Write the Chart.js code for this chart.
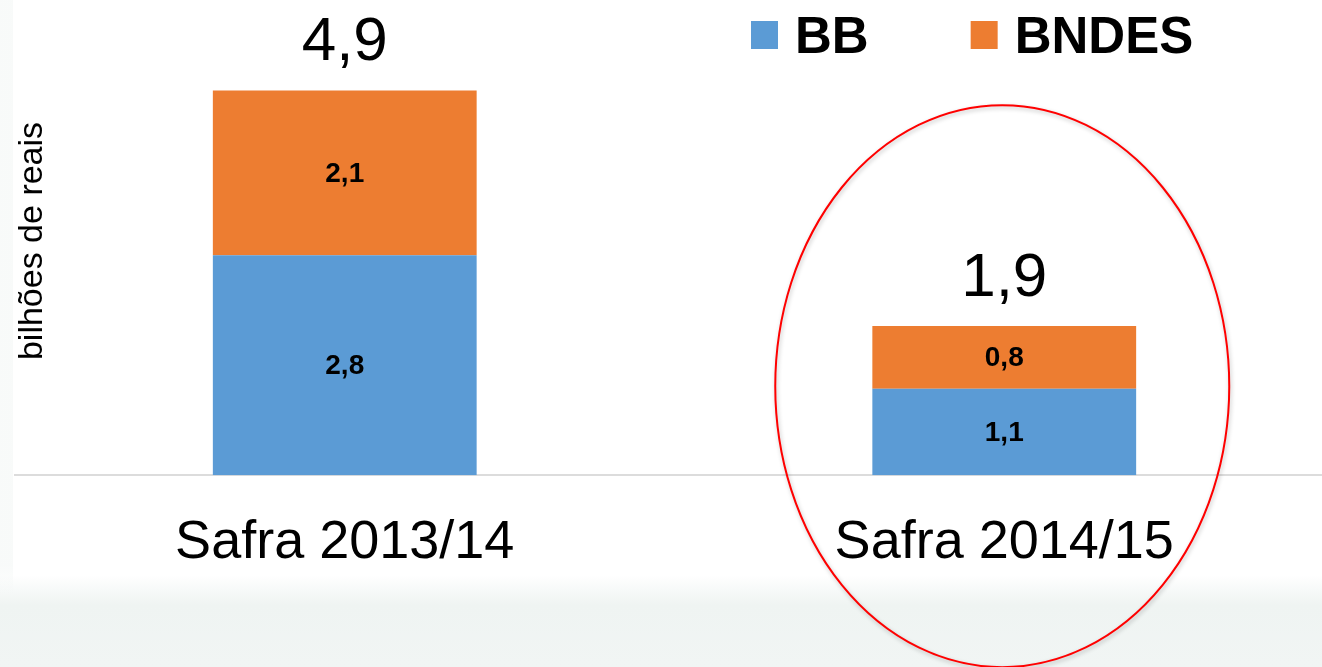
<!DOCTYPE html>
<html><head><meta charset="utf-8">
<script src="https://cdn.jsdelivr.net/npm/chart.js@4.4.1/dist/chart.umd.min.js"></script>
<style>
html,body{margin:0;padding:0;overflow:hidden;background:#fff;}
#wrap{position:relative;width:1336px;height:667px;}
canvas{display:block;}
</style></head><body>
<div id="wrap"><canvas id="c" width="1336" height="667"></canvas></div>
<script>
const categories = ['Safra 2013/14', 'Safra 2014/15'];
const seriesNames = ['BB', 'BNDES'];
const bbValues = [2.8, 1.1];
const bndesValues = [2.1, 0.8];
const totalValues = [4.9, 1.9];
const axisTitle = 'bilhões de reais';
const seriesColors = ['#5b9bd5', '#ed7d31'];
const FONT = '"Liberation Sans", Arial, sans-serif';

const fmt = v => v.toFixed(1).replace('.', ',');

const bgPlugin = {
  id: 'bg',
  beforeDraw(chart) {
    const ctx = chart.ctx, W = chart.width, H = chart.height;
    ctx.save();
    const g = ctx.createLinearGradient(0, 0, 0, H);
    g.addColorStop(0, '#ffffff');
    g.addColorStop(575 / H, '#ffffff');
    g.addColorStop(605 / H, '#eff4f2');
    g.addColorStop(1, '#f1f5f4');
    ctx.fillStyle = g;
    ctx.fillRect(0, 0, W, H);
    const g2 = ctx.createLinearGradient(0, 0, 0, 595);
    g2.addColorStop(0, 'rgba(238,243,241,0.4)');
    g2.addColorStop(0.95, 'rgba(238,243,241,0.4)');
    g2.addColorStop(1, 'rgba(238,243,241,0)');
    ctx.fillStyle = g2;
    ctx.fillRect(0, 0, 13, 595);
    ctx.restore();
  }
};

const labelPlugin = {
  id: 'labels',
  afterDatasetsDraw(chart) {
    const ctx = chart.ctx;
    ctx.save();
    ctx.fillStyle = '#000';
    ctx.textAlign = 'center';
    ctx.textBaseline = 'middle';
    ctx.font = 'bold 28px ' + FONT;
    chart.data.datasets.forEach((ds, di) => {
      chart.getDatasetMeta(di).data.forEach((bar, i) => {
        const mid = (bar.y + bar.base) / 2;
        ctx.fillText(fmt(ds.data[i]), bar.x, mid + 1);
      });
    });
    ctx.font = '62px ' + FONT;
    ctx.textBaseline = 'alphabetic';
    const yS = chart.scales.y, xS = chart.scales.x;
    totalValues.forEach((t, i) => {
      ctx.fillText(fmt(t), xS.getPixelForValue(i), yS.getPixelForValue(t) - 30);
    });
    ctx.save();
    ctx.font = '34px ' + FONT;
    ctx.translate(42, 241);
    ctx.rotate(-Math.PI / 2);
    ctx.textAlign = 'center';
    ctx.fillText(axisTitle, 0, 0);
    ctx.restore();
    ctx.font = 'bold 51px ' + FONT;
    ctx.textAlign = 'left';
    let x = 751;
    chart.data.datasets.forEach((ds) => {
      ctx.fillStyle = ds.backgroundColor;
      ctx.fillRect(x, 21, 27, 28);
      x += 27 + 17;
      ctx.fillStyle = '#000';
      ctx.fillText(ds.label, x, 53);
      x += ctx.measureText(ds.label).width + 102;
    });
    ctx.restore();
  },
  afterDraw(chart) {
    const ctx = chart.ctx;
    const xS = chart.scales.x;
    const cx = xS.getPixelForValue(1) - 2;
    const cy = chart.chartArea.bottom - 89;
    ctx.save();
    ctx.shadowColor = 'rgba(0,0,0,0.25)';
    ctx.shadowBlur = 4;
    ctx.shadowOffsetX = 1;
    ctx.shadowOffsetY = 2;
    ctx.strokeStyle = '#ff0000';
    ctx.lineWidth = 2;
    ctx.beginPath();
    ctx.ellipse(cx, cy, 227, 281, 0, 0, Math.PI * 2);
    ctx.stroke();
    ctx.restore();
  }
};

new Chart(document.getElementById('c'), {
  type: 'bar',
  data: {
    labels: categories,
    datasets: [
      { label: seriesNames[0], data: bbValues, backgroundColor: seriesColors[0] },
      { label: seriesNames[1], data: bndesValues, backgroundColor: seriesColors[1] }
    ]
  },
  options: {
    responsive: false,
    animation: false,
    barPercentage: 0.4,
    categoryPercentage: 1,
    layout: { padding: { left: 15, right: 2, top: 4, bottom: 55 } },
    plugins: { legend: { display: false }, tooltip: { enabled: false } },
    scales: {
      x: {
        stacked: true,
        grid: { display: false, drawTicks: false },
        border: { display: true, color: '#dcdcdc', width: 2 },
        ticks: { color: '#000', font: { family: FONT, size: 54 }, padding: 36 }
      },
      y: { stacked: true, display: false, min: 0, max: 6 }
    }
  },
  plugins: [bgPlugin, labelPlugin]
});
</script>
</body></html>
